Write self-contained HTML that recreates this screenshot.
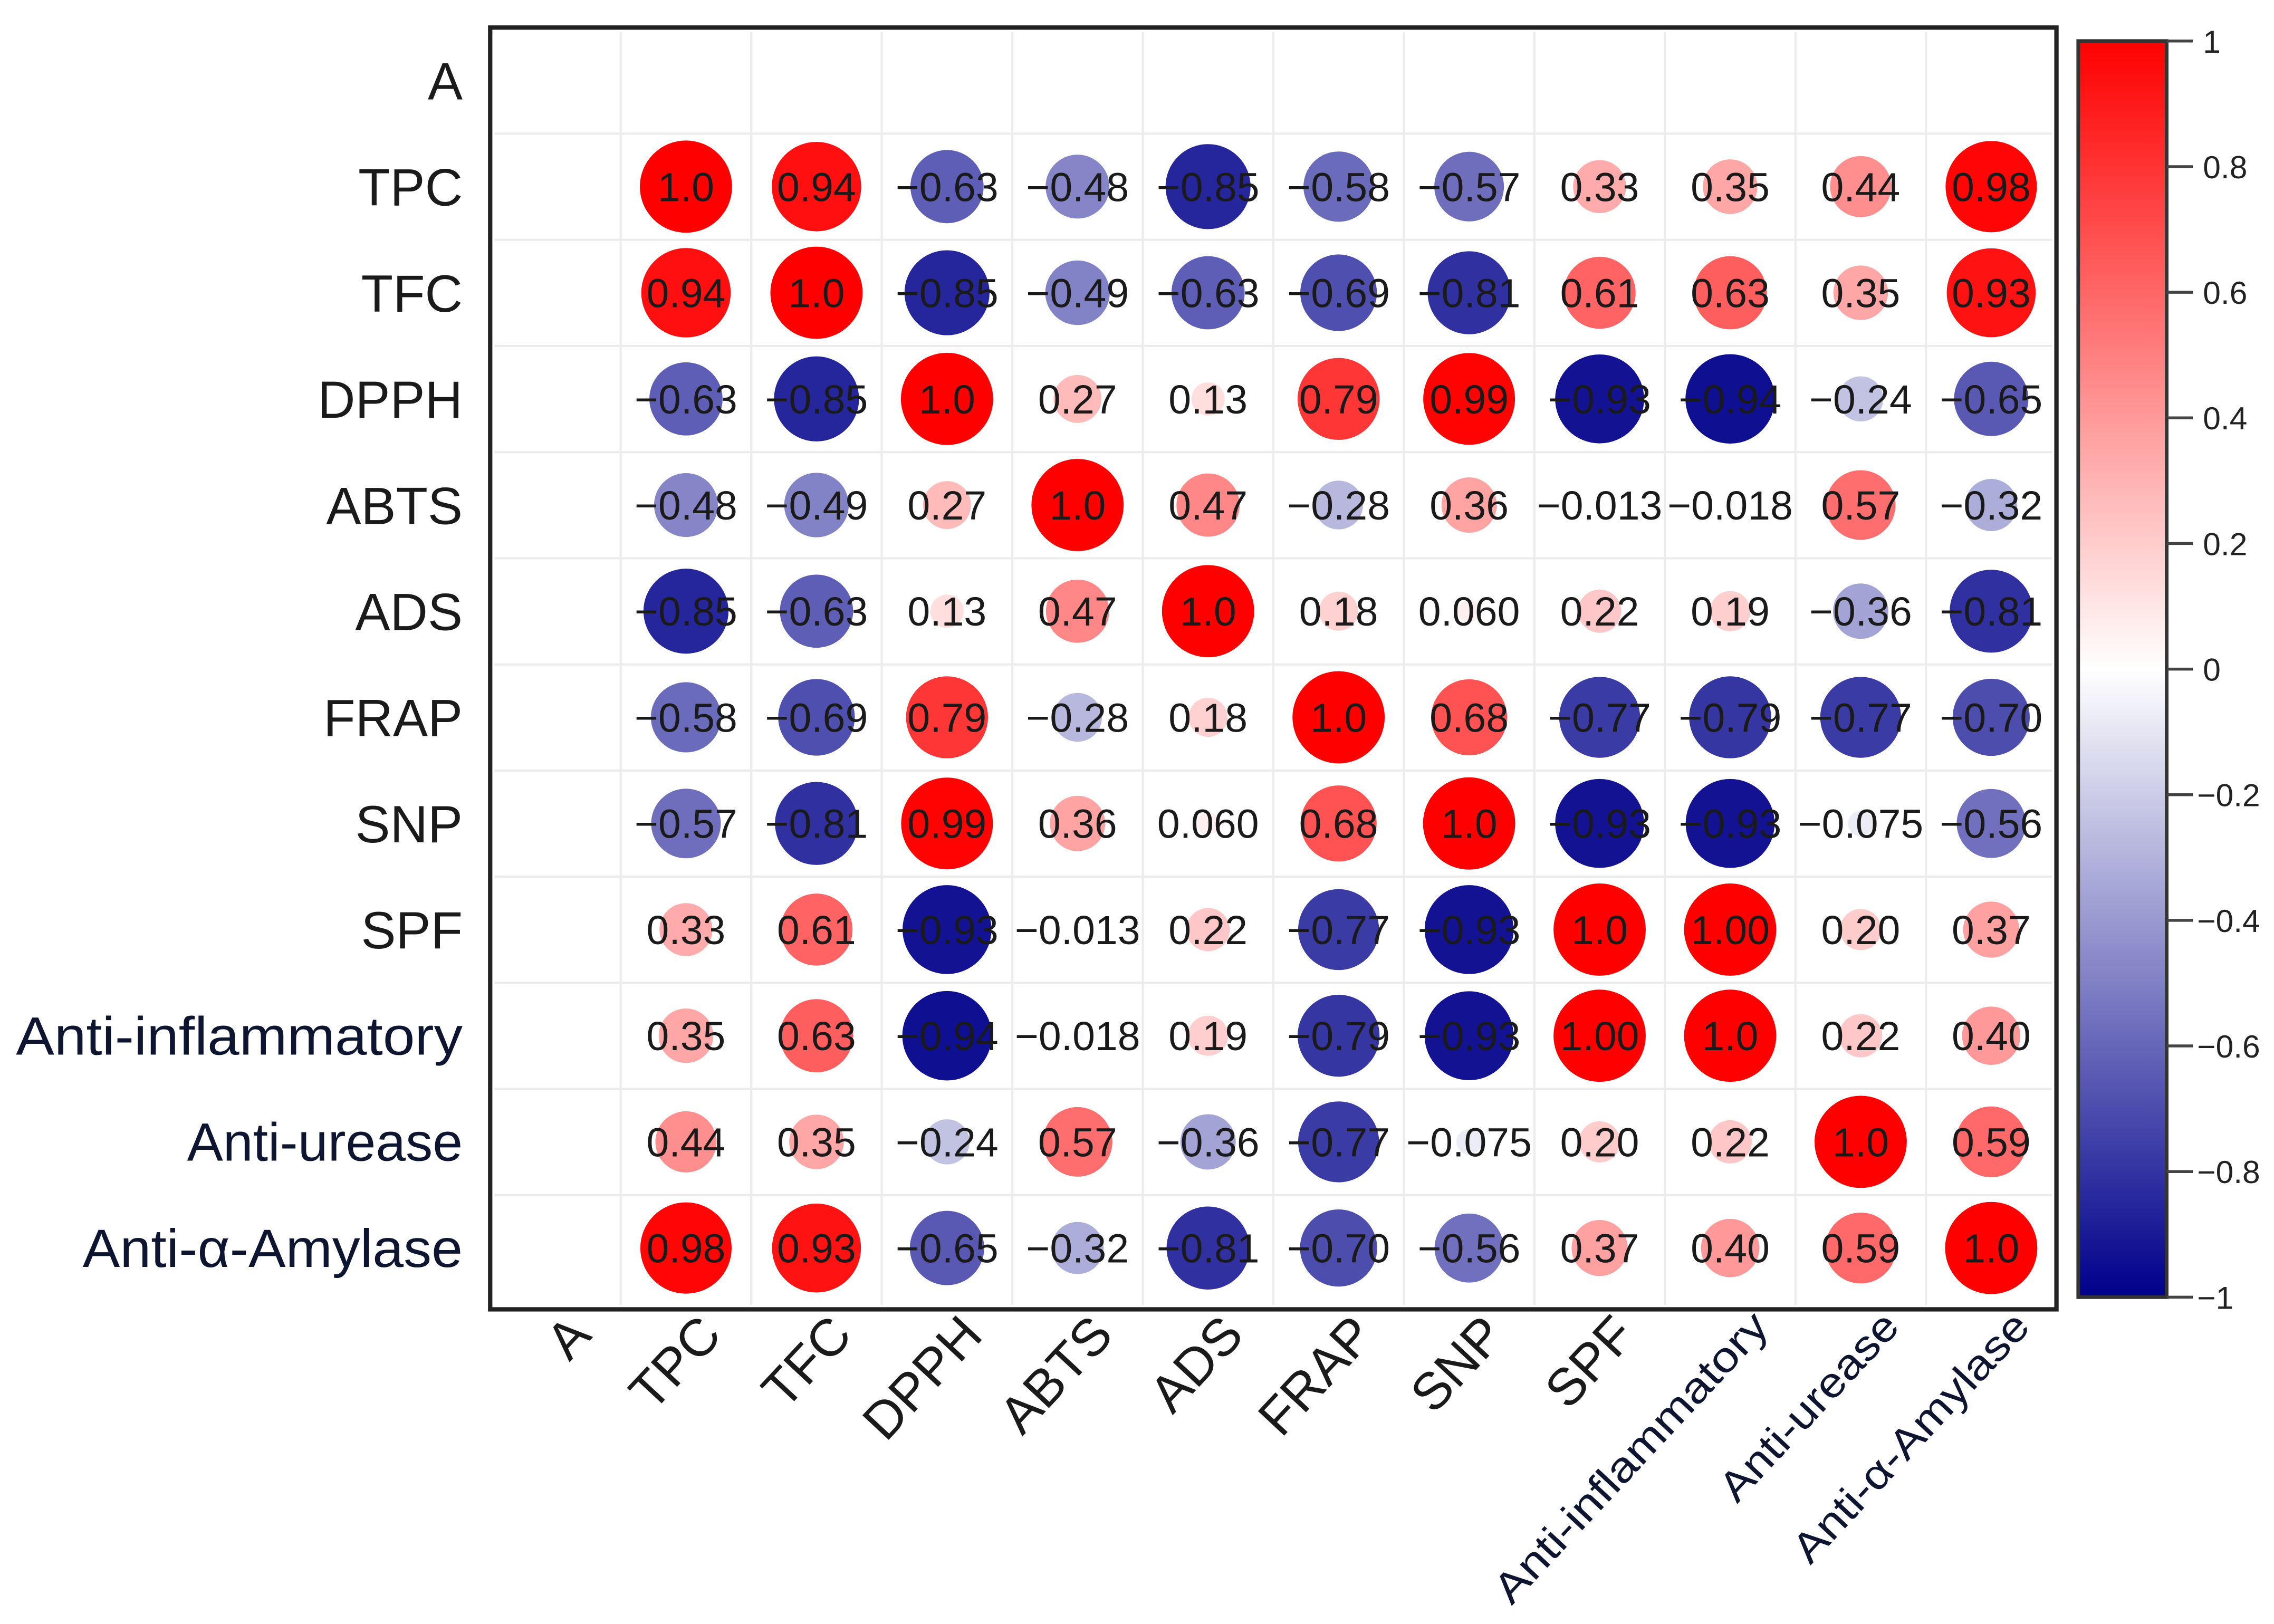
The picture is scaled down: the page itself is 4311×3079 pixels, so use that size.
<!DOCTYPE html>
<html><head><meta charset="utf-8"><style>
html,body{margin:0;padding:0;background:#fff;}
svg{display:block;}
text{font-family:"Liberation Sans",sans-serif;}
</style></head><body>
<svg id="chart" width="4311" height="3079" viewBox="0 0 1568 1120" preserveAspectRatio="none" xmlns="http://www.w3.org/2000/svg">
<defs><linearGradient id="cbgrad" x1="0" y1="0" x2="0" y2="1">
<stop offset="0" stop-color="#ff0000"/><stop offset="0.5" stop-color="#ffffff"/><stop offset="1" stop-color="#00008b"/>
</linearGradient></defs>
<g id="grid"></g>
<g id="marks"></g>
<rect x="338" y="19" width="1080" height="884" fill="none" stroke="#222" stroke-width="3"/>
<g id="ylabels"></g>
<g id="xlabels"></g>
<g id="colorbar">
<rect x="1433" y="28.3" width="61" height="866.3" fill="url(#cbgrad)" stroke="#333" stroke-width="2.5"/>
</g>
</svg>
<script>
const labels = ["A","TPC","TFC","DPPH","ABTS","ADS","FRAP","SNP","SPF","Anti-inflammatory","Anti-urease","Anti-\u03b1-Amylase"];
const rowTPC  = [1.0,0.94,-0.63,-0.48,-0.85,-0.58,-0.57,0.33,0.35,0.44,0.98];
const rowTFC  = [0.94,1.0,-0.85,-0.49,-0.63,-0.69,-0.81,0.61,0.63,0.35,0.93];
const rowDPPH = [-0.63,-0.85,1.0,0.27,0.13,0.79,0.99,-0.93,-0.94,-0.24,-0.65];
const rowABTS = [-0.48,-0.49,0.27,1.0,0.47,-0.28,0.36,-0.013,-0.018,0.57,-0.32];
const rowADS  = [-0.85,-0.63,0.13,0.47,1.0,0.18,0.060,0.22,0.19,-0.36,-0.81];
const rowFRAP = [-0.58,-0.69,0.79,-0.28,0.18,1.0,0.68,-0.77,-0.79,-0.77,-0.70];
const rowSNP  = [-0.57,-0.81,0.99,0.36,0.060,0.68,1.0,-0.93,-0.93,-0.075,-0.56];
const rowSPF  = [0.33,0.61,-0.93,-0.013,0.22,-0.77,-0.93,1.0,1.00,0.20,0.37];
const rowAI   = [0.35,0.63,-0.94,-0.018,0.19,-0.79,-0.93,1.00,1.0,0.22,0.40];
const rowAU   = [0.44,0.35,-0.24,0.57,-0.36,-0.77,-0.075,0.20,0.22,1.0,0.59];
const rowAA   = [0.98,0.93,-0.65,-0.32,-0.81,-0.70,-0.56,0.37,0.40,0.59,1.0];
const valueText = [
 ["1.0","0.94","\u22120.63","\u22120.48","\u22120.85","\u22120.58","\u22120.57","0.33","0.35","0.44","0.98"],
 ["0.94","1.0","\u22120.85","\u22120.49","\u22120.63","\u22120.69","\u22120.81","0.61","0.63","0.35","0.93"],
 ["\u22120.63","\u22120.85","1.0","0.27","0.13","0.79","0.99","\u22120.93","\u22120.94","\u22120.24","\u22120.65"],
 ["\u22120.48","\u22120.49","0.27","1.0","0.47","\u22120.28","0.36","\u22120.013","\u22120.018","0.57","\u22120.32"],
 ["\u22120.85","\u22120.63","0.13","0.47","1.0","0.18","0.060","0.22","0.19","\u22120.36","\u22120.81"],
 ["\u22120.58","\u22120.69","0.79","\u22120.28","0.18","1.0","0.68","\u22120.77","\u22120.79","\u22120.77","\u22120.70"],
 ["\u22120.57","\u22120.81","0.99","0.36","0.060","0.68","1.0","\u22120.93","\u22120.93","\u22120.075","\u22120.56"],
 ["0.33","0.61","\u22120.93","\u22120.013","0.22","\u22120.77","\u22120.93","1.0","1.00","0.20","0.37"],
 ["0.35","0.63","\u22120.94","\u22120.018","0.19","\u22120.79","\u22120.93","1.00","1.0","0.22","0.40"],
 ["0.44","0.35","\u22120.24","0.57","\u22120.36","\u22120.77","\u22120.075","0.20","0.22","1.0","0.59"],
 ["0.98","0.93","\u22120.65","\u22120.32","\u22120.81","\u22120.70","\u22120.56","0.37","0.40","0.59","1.0"]
];
const cbTicks = [1,0.8,0.6,0.4,0.2,0,-0.2,-0.4,-0.6,-0.8,-1];
const cbTickText = ["1","0.8","0.6","0.4","0.2","0","\u22120.2","\u22120.4","\u22120.6","\u22120.8","\u22121"];

const rows = [rowTPC,rowTFC,rowDPPH,rowABTS,rowADS,rowFRAP,rowSNP,rowSPF,rowAI,rowAU,rowAA];
const NS = "http://www.w3.org/2000/svg";
const xPos = j => 383 + j*90;
const yPos = i => 55.5 + i*73.2;
const rScale = v => 31.8*Math.sqrt(Math.abs(v));
const cbY = v => 28.3 + (1 - v)/2*866.3;
function color(v){
  v = Math.max(-1, Math.min(1, v));
  let r,g,b;
  if (v >= 0){ r=255; g=Math.round(255*(1-v)); b=g; }
  else { const t=-v; r=Math.round(255*(1-t)); g=r; b=Math.round(255 - (255-139)*t); }
  return `rgb(${r},${g},${b})`;
}
function mk(tag, attrs, parent){
  const el = document.createElementNS(NS, tag);
  for (const k in attrs) el.setAttribute(k, attrs[k]);
  parent.appendChild(el);
  return el;
}
const grid = document.getElementById('grid');
for (let j=1;j<12;j++){
  const x = 338 + j*90;
  const l = mk('line',{x1:x,y1:22,x2:x,y2:900,stroke:'#ececec','stroke-width':1.5},grid);
  
  
}
for (let i=1;i<12;i++){
  const y = 19 + i*73.2;
  const l = mk('line',{x1:341,y1:y,x2:1415,y2:y,stroke:'#ececec','stroke-width':1.5},grid);
  
  
}
const marks = document.getElementById('marks');
rows.forEach((row,i)=>{
  row.forEach((v,j)=>{
    const cx = xPos(j+1), cy = yPos(i+1);
    const c = mk('circle',{cx:cx,cy:cy,r:rScale(v),fill:color(v)},marks);
    
    
    const t = mk('text',{x:cx,y:cy+10,'text-anchor':'middle','font-size':28,fill:'#1a1a1a'},marks);
    t.textContent = valueText[i][j];
    
    
  });
});
const navy = ["Anti-inflammatory","Anti-urease","Anti-\u03b1-Amylase"];
const rowLabelLen = {"Anti-inflammatory":308,"Anti-urease":190,"Anti-\u03b1-Amylase":262};
const colLabelLen = {"Anti-inflammatory":262,"Anti-urease":166,"Anti-\u03b1-Amylase":224};
const yl = document.getElementById('ylabels');
labels.forEach((lab,i)=>{
  const isNavy = navy.includes(lab);
  const attrs = {x:319,y:yPos(i)+13,'text-anchor':'end','font-size':isNavy?37:36,fill:isNavy?'#0d1530':'#1a1a1a'};
  if (isNavy){ attrs.textLength = rowLabelLen[lab]; attrs.lengthAdjust='spacingAndGlyphs'; }
  const t = mk('text',attrs,yl);
  t.textContent = lab;
  
  
});
const xl = document.getElementById('xlabels');
labels.forEach((lab,j)=>{
  const isNavy = navy.includes(lab);
  const x = xPos(j) + (isNavy?28:26), y = isNavy?916:922;
  const attrs = {x:x,y:y,'text-anchor':'end','font-size':isNavy?29:36,fill:isNavy?'#0d1530':'#1a1a1a',transform:`rotate(-47 ${x} ${y})`};
  if (isNavy){ attrs.textLength = colLabelLen[lab]; attrs.lengthAdjust='spacingAndGlyphs'; }
  const t = mk('text',attrs,xl);
  t.textContent = lab;
  
  
});
const cb = document.getElementById('colorbar');
cbTicks.forEach((v,k)=>{
  const y = cbY(v);
  const l = mk('line',{x1:1494,y1:y,x2:1512,y2:y,stroke:'#444','stroke-width':2},cb);
  
  
  const t = mk('text',{x:v<0?1515:1519,y:y+8,'font-size':22,fill:'#222'},cb);
  t.textContent = cbTickText[k];
  
  
});
</script>
</body></html>
